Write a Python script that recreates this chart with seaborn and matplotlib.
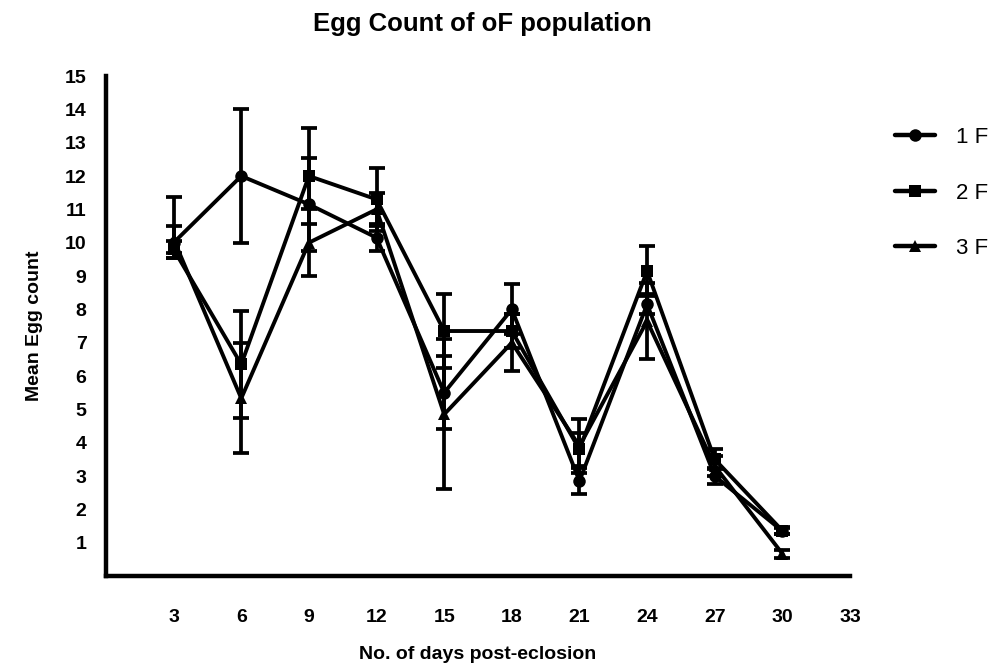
import matplotlib
matplotlib.use("Agg")
import matplotlib.pyplot as plt
import seaborn as sns
import pandas as pd
from matplotlib.lines import Line2D

days = [3, 6, 9, 12, 15, 18, 21, 24, 27, 30]
series_names = ["1 F", "2 F", "3 F"]
mean_1f = [10.0, 12.0, 11.15, 10.15, 5.5, 8.0, 2.85, 8.15, 3.0, 1.35]
err_lo_1f = [0.45, 2.0, 1.4, 0.4, 1.1, 0.75, 0.4, 0.3, 0.25, 0.1]
err_hi_1f = [1.37, 2.0, 1.4, 0.4, 1.1, 0.75, 0.4, 0.3, 0.25, 0.1]
mean_2f = [9.8, 6.35, 12.0, 11.3, 7.35, 7.35, 3.8, 9.15, 3.5, 1.36]
sem_2f = [0.25, 1.6, 1.45, 0.95, 1.1, 0.5, 0.5, 0.75, 0.3, 0.1]
mean_3f = [10.1, 5.33, 10.0, 11.0, 4.85, 7.0, 3.9, 7.65, 3.3, 0.67]
sem_3f = [0.4, 1.65, 1.0, 0.5, 2.25, 0.85, 0.8, 1.15, 0.3, 0.12]
y_ticks = list(range(1, 16))
x_ticks = [3, 6, 9, 12, 15, 18, 21, 24, 27, 30, 33]

means = [mean_1f, mean_2f, mean_3f]
errs = [[err_lo_1f, err_hi_1f], [sem_2f, sem_2f], [sem_3f, sem_3f]]
markers = ["o", "s", "^"]

rows = []
for name, m in zip(series_names, means):
    for d, v in zip(days, m):
        rows.append({"day": d, "count": v, "group": name})
df = pd.DataFrame(rows)

sns.set_style("white")
plt.rcParams["font.family"] = ["Liberation Sans", "DejaVu Sans"]
plt.rcParams["text.color"] = "black"
plt.rcParams["axes.labelcolor"] = "black"
plt.rcParams["xtick.color"] = "black"
plt.rcParams["ytick.color"] = "black"

fig = plt.figure(figsize=(9.98, 6.68), dpi=100)
ax = fig.add_axes([0.1062, 0.1377, 0.7455, 0.7485])

for name, m, e, mk in zip(series_names, means, errs, markers):
    ax.errorbar(days, m, yerr=e, fmt="none", ecolor="black", elinewidth=2.7,
                capsize=6, capthick=2.7, zorder=2)

sns.lineplot(data=df, x="day", y="count", hue="group", style="group",
             markers={n: mk for n, mk in zip(series_names, markers)},
             dashes=False, palette={n: "black" for n in series_names},
             linewidth=2.8, markersize=9, markeredgewidth=0, ax=ax,
             legend=False, zorder=3)

ax.set_xlim(0, 33)
ax.set_ylim(0, 15)
ax.set_xticks(x_ticks)
ax.set_yticks(y_ticks)
for sp in ["top", "right"]:
    ax.spines[sp].set_visible(False)
for sp in ["left", "bottom"]:
    ax.spines[sp].set_linewidth(3.2)
    ax.spines[sp].set_color("black")
ax.tick_params(axis="both", direction="out", length=8, width=3, color="black",
               labelcolor="black", labelsize=14, pad=6)
ax.tick_params(axis="x", pad=16)
for lab in ax.get_xticklabels() + ax.get_yticklabels():
    lab.set_fontweight("bold")
ax.set_xlabel("No. of days post-eclosion", fontsize=14, fontweight="bold",
              labelpad=14, color="black")
ax.set_ylabel("Mean Egg count", fontsize=14, fontweight="bold", labelpad=16,
              color="black")
fig.text(0.4832, 0.964, "Egg Count of oF population", ha="center", va="center",
         fontsize=18.5, fontweight="bold", color="black")

handles = [Line2D([0], [0], color="black", lw=3.2, marker=mk, markersize=9,
                  markeredgewidth=0) for mk in markers]
leg = fig.legend(handles, series_names, loc="upper left",
                 bbox_to_anchor=(0.897, 0.8095), frameon=False, fontsize=16,
                 handlelength=1.8, labelspacing=1.55, handletextpad=0.95,
                 borderpad=0, borderaxespad=0)
for t in leg.get_texts():
    t.set_color("black")

fig.savefig("out.png", dpi=100)
